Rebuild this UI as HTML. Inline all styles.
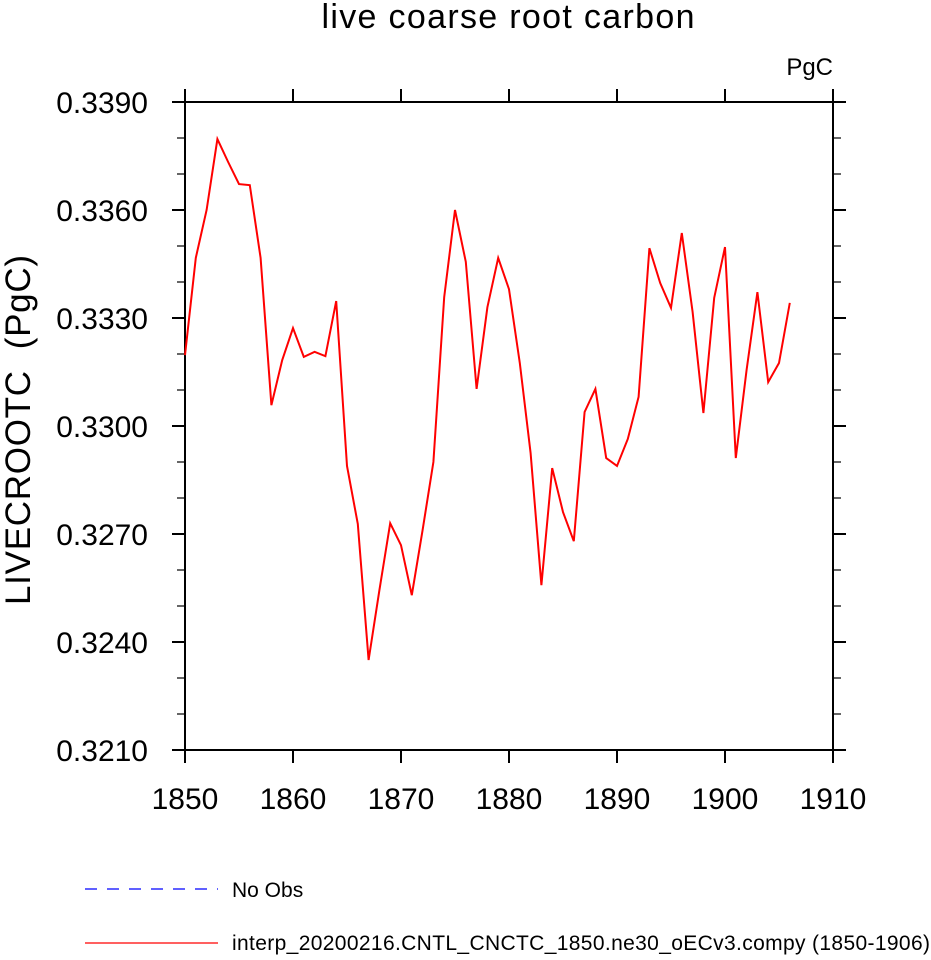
<!DOCTYPE html>
<html><head><meta charset="utf-8"><style>
body{margin:0;background:#fff;width:931px;height:955px;overflow:hidden}
svg text{font-family:"Liberation Sans",sans-serif;fill:#000}
</style></head><body>
<svg id="chart" width="931" height="955">
<text x="508" y="28" font-size="34" text-anchor="middle" textLength="373">live coarse root carbon</text>
<text x="833" y="75" font-size="24" text-anchor="end">PgC</text>
<text transform="translate(30,430) rotate(-90)" font-size="35" text-anchor="middle" textLength="350" xml:space="preserve">LIVECROOTC  (PgC)</text>
<g id="axes"></g>
<g id="series"></g>
<line x1="85" y1="889" x2="218" y2="889" stroke="#0000ff" stroke-width="1.3" stroke-dasharray="12,10"/>
<text x="232" y="897" font-size="21">No Obs</text>
<line x1="85" y1="943" x2="218" y2="943" stroke="#ff0000" stroke-width="1.3"/>
<text x="232" y="950" font-size="21" textLength="698">interp_20200216.CNTL_CNCTC_1850.ne30_oECv3.compy (1850-1906)</text>
</svg>
<script>
const years=[1850,1851,1852,1853,1854,1855,1856,1857,1858,1859,1860,1861,1862,1863,1864,1865,1866,1867,1868,1869,1870,1871,1872,1873,1874,1875,1876,1877,1878,1879,1880,1881,1882,1883,1884,1885,1886,1887,1888,1889,1890,1891,1892,1893,1894,1895,1896,1897,1898,1899,1900,1901,1902,1903,1904,1905,1906];
const values=[0.33197,0.33467,0.3360,0.33797,0.33733,0.33672,0.33669,0.33467,0.33058,0.33183,0.33272,0.33192,0.33206,0.33194,0.33347,0.32889,0.32728,0.3235,0.32544,0.3273,0.32669,0.3253,0.32711,0.3290,0.33358,0.3360,0.33456,0.33103,0.3333,0.33467,0.3338,0.33175,0.32925,0.32558,0.32883,0.32761,0.3268,0.33039,0.33103,0.32911,0.32889,0.32964,0.33081,0.33494,0.33397,0.33328,0.33536,0.33317,0.33036,0.33356,0.33497,0.32911,0.33156,0.33372,0.33122,0.33175,0.33342];
const xTicks=[1850,1860,1870,1880,1890,1900,1910];
const yTicks=[0.3210,0.3240,0.3270,0.3300,0.3330,0.3360,0.3390];
const L=185,R=833,T=102,B=750,x0=1850,x1=1910,y0=0.3210,y1=0.3390;
const sx=v=>L+(v-x0)/(x1-x0)*(R-L);
const sy=v=>B-(v-y0)/(y1-y0)*(B-T);
const NS="http://www.w3.org/2000/svg";
const ax=document.getElementById('axes');
function mk(tag,attrs,parent){const e=document.createElementNS(NS,tag);for(const k in attrs)e.setAttribute(k,attrs[k]);parent.appendChild(e);return e;}
const fr=mk('rect',{x:L,y:T,width:R-L,height:B-T,fill:'none',stroke:'#000','stroke-width':2},ax);


xTicks.forEach(v=>{
  const x=sx(v);
  const t=mk('line',{x1:x,y1:B,x2:x,y2:B+13,stroke:'#000','stroke-width':2},ax);
  
  
  const t2=mk('line',{x1:x,y1:T,x2:x,y2:T-13,stroke:'#000','stroke-width':2},ax);
  
  
  const l=mk('text',{x:x,y:B+59,'font-size':30,'text-anchor':'middle'},ax);
  l.textContent=v;
  
  
});
for(let i=0;i<yTicks.length;i++){
  const v=yTicks[i],y=sy(v);
  for(const [a,b] of [[L,L-13],[R,R+13]]){
    const t=mk('line',{x1:a,y1:y,x2:b,y2:y,stroke:'#000','stroke-width':2},ax);
    
    
  }
  if(i<yTicks.length-1){
    for(let k=1;k<3;k++){
      const ym=sy(v+(yTicks[i+1]-v)*k/3);
      for(const [a,b] of [[L,L-8],[R,R+8]]){
        const m=mk('line',{x1:a,y1:ym,x2:b,y2:ym,stroke:'#000','stroke-width':1.2},ax);
        
        
      }
    }
  }
  const l=mk('text',{x:148,y:y+11,'font-size':30,'text-anchor':'end'},ax);
  l.textContent=v.toFixed(4);
  
  
}
const p=mk('polyline',{points:years.map((yr,i)=>sx(yr)+','+sy(values[i])).join(' '),fill:'none',stroke:'#ff0000','stroke-width':2},document.getElementById('series'));


</script>
</body></html>
